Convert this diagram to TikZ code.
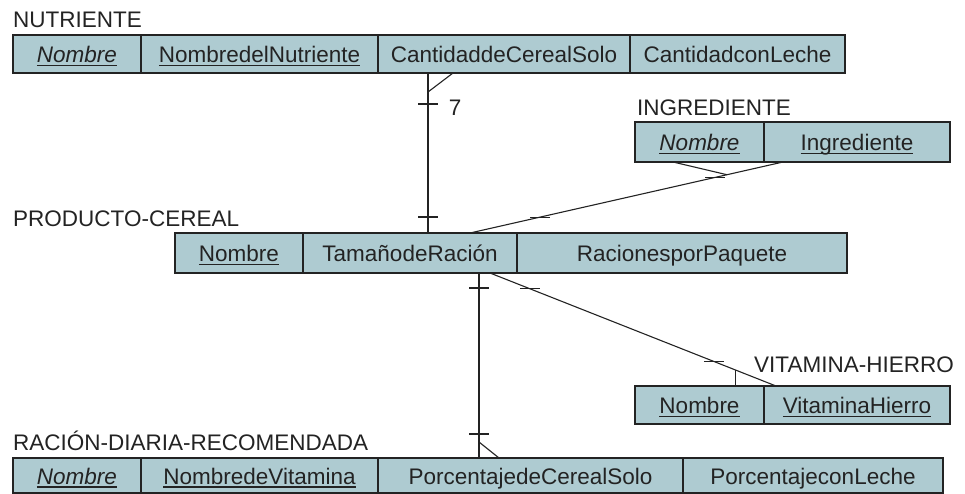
\documentclass[tikz,border=0pt]{standalone}
\usepackage{fontspec}
\setmainfont{Liberation Sans}
\usetikzlibrary{positioning,calc}
\definecolor{tblfill}{RGB}{174,203,209}
\definecolor{ink}{RGB}{35,35,35}
\newcommand{\pk}[1]{\setbox0\hbox{#1}\rlap{\rule[-3.5pt]{\wd0}{1.3pt}}\box0}

\begin{document}
\begin{tikzpicture}[
    x=1pt, y=-1pt,
    node distance=0pt,
    cell/.style={rectangle, draw=ink, line width=1.3pt, fill=tblfill, inner sep=0pt, outer sep=0pt,
      minimum height=38pt, text height=17pt, text depth=0pt, font=\fontsize{22.5}{26}\selectfont, text=ink},
    tname/.style={anchor=base west, inner sep=0pt, font=\fontsize{22.5}{26}\selectfont, text=ink},
    rel/.style={line width=1.1pt, draw=ink},
    tick/.style={line width=1.1pt, draw=ink}
  ]
  \useasboundingbox (0,0) rectangle (965,493);

  % tables
  \node[cell, minimum width=128pt, anchor=north west] (nNom) at (13,35) {\pk{\textit{Nombre}}};
  \node[cell, minimum width=237pt, right=of nNom] (nNut) {\pk{NombredelNutriente}};
  \node[cell, minimum width=252pt, right=of nNut] (nCant) {CantidaddeCerealSolo};
  \node[cell, minimum width=215pt, right=of nCant] (nLeche) {CantidadconLeche};

  \node[cell, minimum width=129pt, minimum height=40pt, anchor=north west] (iNom) at (635,122) {\pk{\textit{Nombre}}};
  \node[cell, minimum width=186pt, minimum height=40pt, right=of iNom] (iIng) {\pk{Ingrediente}};

  \node[cell, minimum width=128pt, minimum height=40pt, anchor=north west] (pNom) at (175,233) {\pk{Nombre}};
  \node[cell, minimum width=214pt, minimum height=40pt, right=of pNom] (pTam) {TamañodeRación};
  \node[cell, minimum width=330pt, minimum height=40pt, right=of pTam] (pRacion) {RacionesporPaquete};

  \node[cell, minimum width=129pt, anchor=north west] (vNom) at (635,386) {\pk{Nombre}};
  \node[cell, minimum width=186pt, right=of vNom] (vVit) {\pk{VitaminaHierro}};

  \node[cell, minimum width=128pt, minimum height=35pt, anchor=north west] (rNom) at (13,458) {\pk{\textit{Nombre}}};
  \node[cell, minimum width=237pt, minimum height=35pt, right=of rNom] (rVit) {\pk{NombredeVitamina}};
  \node[cell, minimum width=305pt, minimum height=35pt, right=of rVit] (rPorc) {PorcentajedeCerealSolo};
  \node[cell, minimum width=260pt, minimum height=35pt, right=of rPorc] (rLeche) {PorcentajeconLeche};

  % table names
  \node[tname] (nutLbl) at ([yshift=8pt]nNom.north west) {NUTRIENTE};
  \node[tname] (ingLbl) at ([xshift=2pt,yshift=7pt]iNom.north west) {INGREDIENTE};
  \node[tname] (prodLbl) at (13,226) {PRODUCTO-CEREAL};
  \node[tname] (vitLbl) at ([xshift=-10pt,yshift=14pt]vVit.north west) {VITAMINA-HIERRO};
  \node[tname] (racLbl) at ([yshift=8pt]rNom.north west) {RACIÓN-DIARIA-RECOMENDADA};

  % NUTRIENTE -- PRODUCTO-CEREAL
  \coordinate (nFoot) at ([xshift=50pt]nCant.south west);
  \draw[rel] (nFoot) -- (nFoot |- pTam.north);
  \draw[rel] ($(nFoot)+(0,19)$) -- ($(nFoot)+(25,0)$);
  \draw[tick] ($(nFoot)+(-10,31)$) -- ++(20,0);
  \draw[tick] ($(nFoot |- pTam.north)+(-10,-16)$) -- ++(20,0);
  \node[inner sep=0pt, font=\fontsize{22.5}{26}\selectfont, text=ink] (nCard) at ($(nFoot)+(27,35)$) {7};

  % INGREDIENTE -- PRODUCTO-CEREAL
  \coordinate (iFoot) at ([xshift=19pt]iIng.south west);
  \coordinate (pIng) at ([xshift=-47pt]pTam.north east);
  \draw[rel] (iFoot) -- (pIng);
  \draw[rel] ([xshift=38pt]iNom.south west) -- ($(pIng)!0.821!(iFoot)$);
  \draw[tick] ($(pIng)!0.224!(iFoot)+(-10,0)$) -- ++(20,0);
  \draw[tick] ($(pIng)!0.783!(iFoot)+(-10,0)$) -- ++(20,0);

  % PRODUCTO-CEREAL -- RACION-DIARIA-RECOMENDADA
  \coordinate (pRac) at ([xshift=-38pt]pTam.south east);
  \draw[rel] (pRac) -- (pRac |- rPorc.north);
  \draw[tick] ($(pRac)+(-10,15)$) -- ++(20,0);
  \draw[tick] ($(pRac |- rPorc.north)+(-10,-24)$) -- ++(20,0);
  \draw[rel] ($(pRac |- rPorc.north)+(0,-16)$) -- ($(pRac |- rPorc.north)+(20,0)$);

  % PRODUCTO-CEREAL -- VITAMINA-HIERRO
  \coordinate (pVit) at ([xshift=-27pt]pTam.south east);
  \coordinate (vFoot) at ([xshift=12pt]vVit.north west);
  \draw[rel] (pVit) -- (vFoot);
  \draw[tick] ($(pVit)!0.14!(vFoot)+(-10,0)$) -- ++(20,0);
  \draw[tick] ($(pVit)!0.783!(vFoot)+(-10,0)$) -- ++(20,0);
  \coordinate (vBr) at ($(pVit)!0.857!(vFoot)$);
  \draw[rel] (vBr) -- (vBr |- vNom.north);
\end{tikzpicture}
\end{document}
